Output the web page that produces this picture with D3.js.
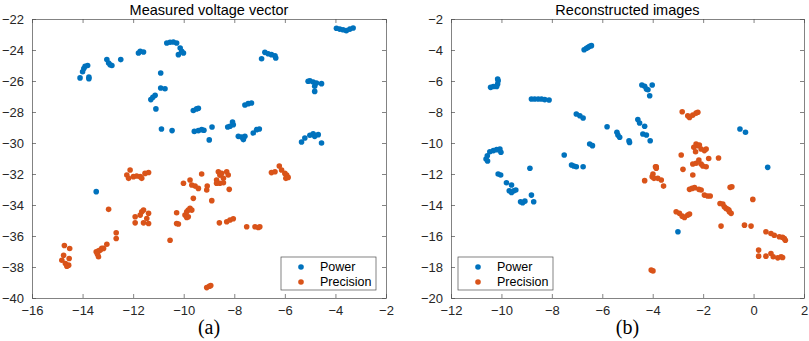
<!DOCTYPE html>
<html>
<head>
<meta charset="utf-8">
<script src="https://cdn.jsdelivr.net/npm/d3@7"></script>
<style>
  body { margin: 0; background: #fff; }
  text { font-family: "Liberation Sans", Arial, sans-serif; }
</style>
</head>
<body>
<div id="chart"></div>
<script>
// Panel (a): measured voltage vector
const powerA = [
  [-14.1,-25.8],[-14.0,-25.4],[-13.95,-25.2],[-13.9,-25.05],[-13.8,-25.0],[-13.75,-25.85],[-13.75,-25.75],
  [-13.04,-24.62],[-12.97,-24.84],[-12.91,-24.95],[-12.84,-25.0],[-12.49,-24.62],
  [-11.79,-24.19],[-11.72,-24.09],[-11.59,-24.13],
  [-10.67,-23.55],[-10.54,-23.5],[-10.41,-23.48],[-10.28,-23.55],[-10.14,-23.87],[-10.08,-24.09],[-10.01,-24.19],[-10.21,-24.3],
  [-10.91,-25.48],[-10.91,-26.45],[-10.74,-26.5],
  [-11.3,-27.2],[-11.22,-27.05],[-11.13,-26.92],[-11.1,-27.8],
  [-10.88,-29.1],[-10.46,-29.2],
  [-9.62,-27.9],[-9.49,-27.8],[-9.42,-27.76],
  [-9.58,-29.25],[-9.42,-29.2],[-9.29,-29.14],[-9.2,-29.18],[-8.99,-29.8],[-8.88,-28.97],
  [-8.26,-28.97],[-8.17,-28.92],[-8.07,-28.65],[-8.04,-28.82],
  [-7.84,-29.57],[-7.71,-29.61],[-7.64,-29.78],[-7.58,-29.57],
  [-7.58,-27.55],[-7.45,-27.46],[-7.32,-27.42],
  [-7.25,-29.35],[-7.12,-29.14],[-7.01,-29.1],
  [-6.92,-24.56],[-6.79,-24.15],[-6.66,-24.24],[-6.53,-24.3],[-6.39,-24.37],[-6.36,-24.52],
  [-5.08,-26.02],[-5.01,-25.98],[-4.88,-26.06],[-4.82,-26.34],[-4.82,-26.67],[-4.75,-26.13],[-4.55,-26.17],
  [-5.34,-29.94],[-5.21,-29.68],[-5.01,-29.5],[-4.88,-29.4],[-4.82,-29.57],[-4.68,-29.46],[-4.55,-30.0],
  [-3.96,-22.6],[-3.83,-22.65],[-3.7,-22.69],[-3.57,-22.75],[-3.43,-22.65],[-3.3,-22.58],
  [-13.46,-33.14]
];
const precisionA = [
  [-14.82,-37.56],[-14.75,-37.24],[-14.72,-36.61],[-14.68,-37.78],[-14.55,-37.88],[-14.51,-36.81],[-14.53,-37.45],[-14.62,-37.95],
  [-13.46,-37.02],[-13.37,-36.96],[-13.3,-36.91],[-13.24,-36.8],[-13.17,-36.8],[-13.37,-37.34],[-13.41,-37.17],
  [-13.04,-36.53],[-12.97,-34.28],[-12.67,-35.79],[-12.67,-36.16],
  [-12.25,-32.06],[-12.12,-31.74],[-12.18,-32.28],[-11.99,-32.17],[-11.86,-32.13],[-11.72,-32.17],[-11.66,-32.28],[-11.53,-31.96],[-11.39,-31.9],
  [-11.92,-34.76],[-11.92,-35.15],[-11.72,-34.65],[-11.66,-34.44],[-11.59,-34.33],[-11.46,-34.87],[-11.39,-35.19],[-11.39,-34.54],[-11.59,-35.15],
  [-10.54,-36.27],[-10.28,-34.5],[-10.28,-35.19],[-10.21,-35.23],
  [-10.01,-32.6],[-9.75,-32.39],[-9.68,-32.71],[-9.55,-32.78],[-9.42,-32.93],[-9.62,-33.57],
  [-9.95,-34.65],[-9.88,-34.44],[-9.82,-34.33],[-9.75,-34.22],[-9.68,-34.33],[-9.82,-34.76],[-9.88,-34.8],
  [-9.29,-32.0],[-9.09,-33.03],[-9.07,-32.78],[-8.89,-33.72],
  [-9.09,-39.33],[-8.99,-39.24],[-8.93,-39.2],
  [-8.7,-32.39],[-8.63,-31.85],[-8.57,-32.07],[-8.5,-31.96],[-8.43,-32.28],[-8.57,-32.6],[-8.7,-32.6],
  [-8.43,-32.56],[-8.3,-31.85],[-8.24,-32.06],[-8.2,-32.99],
  [-8.59,-35.15],[-8.3,-35.08],[-8.17,-34.97],[-8.04,-34.89],
  [-7.51,-35.4],[-7.18,-35.4],[-7.05,-35.45],[-6.99,-35.4],
  [-6.53,-31.91],[-6.39,-31.85],[-6.22,-31.48],[-6.13,-31.74],[-6.0,-31.96],[-5.93,-32.06],[-5.87,-32.22],[-5.96,-32.28]
];

// Panel (b): reconstructed images
const powerB = [
  [-10.43,-6.41],[-10.32,-6.35],[-10.19,-6.35],[-10.15,-6.2],[-10.13,-5.98],[-10.15,-5.87],
  [-8.81,-7.16],[-8.68,-7.16],[-8.54,-7.16],[-8.41,-7.16],[-8.28,-7.2],[-8.11,-7.23],
  [-6.72,-3.98],[-6.63,-3.89],[-6.56,-3.83],[-6.5,-3.76],[-6.43,-3.72],
  [-7.03,-8.13],[-6.89,-8.24],[-6.76,-8.39],
  [-6.5,-10.06],[-6.39,-10.17],[-5.81,-8.95],
  [-5.42,-9.31],[-5.38,-9.48],[-5.31,-9.63],[-4.94,-9.85],[-4.92,-9.96],
  [-4.59,-8.49],[-4.52,-8.71],[-4.32,-8.92],[-4.39,-9.42],[-4.25,-9.48],[-4.1,-9.85],
  [-4.43,-6.26],[-4.32,-6.34],[-4.25,-6.52],[-4.19,-6.56],[-4.12,-6.95],[-4.02,-6.26],
  [-0.54,-9.1],[-0.32,-9.31],
  [-10.56,-10.82],[-10.46,-10.56],[-10.32,-10.49],[-10.19,-10.43],[-10.06,-10.39],[-10.02,-10.6],[-10.61,-11.03],[-10.55,-11.16],
  [-7.51,-10.77],[-8.87,-11.63],
  [-10.13,-12.0],[-10.03,-12.06],
  [-9.8,-12.56],[-9.6,-12.71],[-9.69,-13.08],[-9.6,-13.19],[-9.51,-13.08],[-9.43,-13.03],
  [-9.24,-13.79],[-9.16,-13.85],[-9.07,-13.75],[-8.81,-13.36],[-8.72,-13.79],
  [-7.22,-11.42],[-7.13,-11.48],[-7.03,-11.53],[-6.76,-11.53],
  [-3.0,-15.73],[0.56,-11.57]
];
const precisionB = [
  [-2.83,-7.98],[-2.61,-8.24],[-2.54,-8.35],[-2.41,-8.2],[-2.28,-8.07],[-2.21,-8.02],
  [-2.37,-10.28],[-2.28,-10.06],[-2.21,-10.17],[-2.15,-10.13],[-2.08,-10.39],[-1.95,-10.49],[-1.88,-10.39],[-2.3,-10.56],
  [-2.87,-10.77],[-1.39,-10.97],[-3.86,-11.53],
  [-4.32,-12.43],[-4.02,-12.17],[-3.99,-12.0],[-3.95,-12.28],[-3.89,-11.53],[-3.86,-11.63],[-3.8,-12.28],[-3.66,-12.39],[-3.57,-12.78],
  [-2.8,-11.7],[-2.41,-11.35],[-2.28,-11.31],[-2.17,-11.1],[-2.08,-11.35],[-2.01,-11.48],[-1.88,-11.53],[-1.78,-11.0],
  [-2.41,-12.06],[-2.54,-12.99],[-2.44,-12.93],[-2.34,-12.88],[-2.17,-12.99],[-2.08,-13.03],
  [-1.95,-13.36],[-1.82,-13.42],[-1.72,-13.42],
  [-3.07,-14.44],[-2.94,-14.54],[-2.83,-14.72],[-2.74,-14.8],[-2.61,-14.65],[-2.54,-14.58],
  [-1.33,-13.9],[-1.22,-13.94],[-1.16,-14.11],[-1.09,-14.22],[-1.02,-14.28],[-0.96,-14.44],[-0.89,-14.54],[-0.98,-14.32],
  [-0.93,-12.86],[-0.86,-12.82],[-1.29,-15.36],[-0.36,-15.3],[-0.1,-15.36],[-0.03,-13.64],
  [0.2,-16.91],[0.2,-17.3],
  [0.49,-15.73],[0.69,-15.84],[0.82,-15.95],[1.02,-16.05],[1.15,-16.09],[1.22,-16.16],[1.26,-16.27],
  [0.49,-17.3],[0.69,-17.13],[0.78,-17.34],[0.96,-17.41],[1.09,-17.34],[1.15,-17.39],
  [-4.06,-18.2],[-3.99,-18.25]
];

const xTicksA = [-16,-14,-12,-10,-8,-6,-4,-2];
const yTicksA = [-22,-24,-26,-28,-30,-32,-34,-36,-38,-40];
const xTicksB = [-12,-10,-8,-6,-4,-2,0,2];
const yTicksB = [-2,-4,-6,-8,-10,-12,-14,-16,-18,-20];
const seriesNames = ["Power", "Precision"];
const colors = ["#0072BD", "#D95319"];

const svg = d3.select("#chart")
  .append("svg")
    .attr("width", 809)
    .attr("height", 341);

function panel(opts) {
  const x = d3.scaleLinear()
      .domain(d3.extent(opts.xTicks))
      .range([opts.left, opts.right]);
  const y = d3.scaleLinear()
      .domain(d3.extent(opts.yTicks))
      .range([opts.bottom, opts.top]);
  const g = svg.append("g");
  const w = opts.right - opts.left;

  // axes, ticks pointing inward, box on
  const fmt = d3.format("");
  const axes = [
    [d3.axisBottom(x).tickValues(opts.xTicks).tickFormat(fmt), `translate(0,${opts.bottom})`],
    [d3.axisTop(x).tickValues(opts.xTicks).tickFormat(""), `translate(0,${opts.top})`],
    [d3.axisLeft(y).tickValues(opts.yTicks).tickFormat(fmt), `translate(${opts.left},0)`],
    [d3.axisRight(y).tickValues(opts.yTicks).tickFormat(""), `translate(${opts.right},0)`]
  ];
  axes.forEach(([ax, tr]) => {
    const a = g.append("g")
        .attr("transform", tr)
        .call(ax.tickSizeInner(-4).tickSizeOuter(0).tickPadding(8));
    a.select(".domain").attr("stroke", "#4d4d4d").attr("stroke-width", 0.7);
    a.selectAll(".tick line").attr("stroke", "#4d4d4d").attr("stroke-width", 0.7);
    a.selectAll(".tick text")
        .attr("fill", "#262626")
        .style("font-size", "13px")
        .style("font-family", "'Liberation Sans', Arial, sans-serif");
  });

  // points
  [opts.power, opts.precision].forEach((data, i) => {
    g.append("g").selectAll("circle")
      .data(data)
      .join("circle")
        .attr("cx", d => x(d[0]))
        .attr("cy", d => y(d[1]))
        .attr("r", 2.8)
        .attr("fill", colors[i]);
  });

  // title
  g.append("text")
    .attr("x", opts.left + w / 2)
    .attr("y", opts.top - 4)
    .attr("text-anchor", "middle")
    .style("font-size", "14.5px")
    .attr("fill", "#000")
    .text(opts.title);

  // panel label
  g.append("text")
    .attr("x", opts.left + w / 2)
    .attr("y", 334)
    .attr("text-anchor", "middle")
    .style("font-family", "'Liberation Serif', 'DejaVu Serif', serif")
    .style("font-size", "20px")
    .attr("fill", "#000")
    .text(opts.label);

  // legend
  const lg = g.append("g").attr("transform", `translate(${opts.legend[0]},${opts.legend[1]})`);
  lg.append("rect")
    .attr("width", 95)
    .attr("height", 33)
    .attr("fill", "#fff")
    .attr("stroke", "#4d4d4d")
    .attr("stroke-width", 0.7);
  seriesNames.forEach((name, i) => {
    lg.append("circle")
      .attr("cx", 20)
      .attr("cy", 10 + i * 15)
      .attr("r", 2.8)
      .attr("fill", colors[i]);
    lg.append("text")
      .attr("x", 39)
      .attr("y", 10 + i * 15)
      .attr("dy", "0.35em")
      .style("font-size", "12.5px")
      .attr("fill", "#000")
      .text(name);
  });
}

panel({
  left: 32, right: 386, top: 19, bottom: 298,
  xTicks: xTicksA, yTicks: yTicksA,
  power: powerA, precision: precisionA,
  title: "Measured voltage vector", label: "(a)",
  legend: [281, 257]
});

panel({
  left: 451, right: 804, top: 19, bottom: 298,
  xTicks: xTicksB, yTicks: yTicksB,
  power: powerB, precision: precisionB,
  title: "Reconstructed images", label: "(b)",
  legend: [458, 257]
});
</script>
</body>
</html>
